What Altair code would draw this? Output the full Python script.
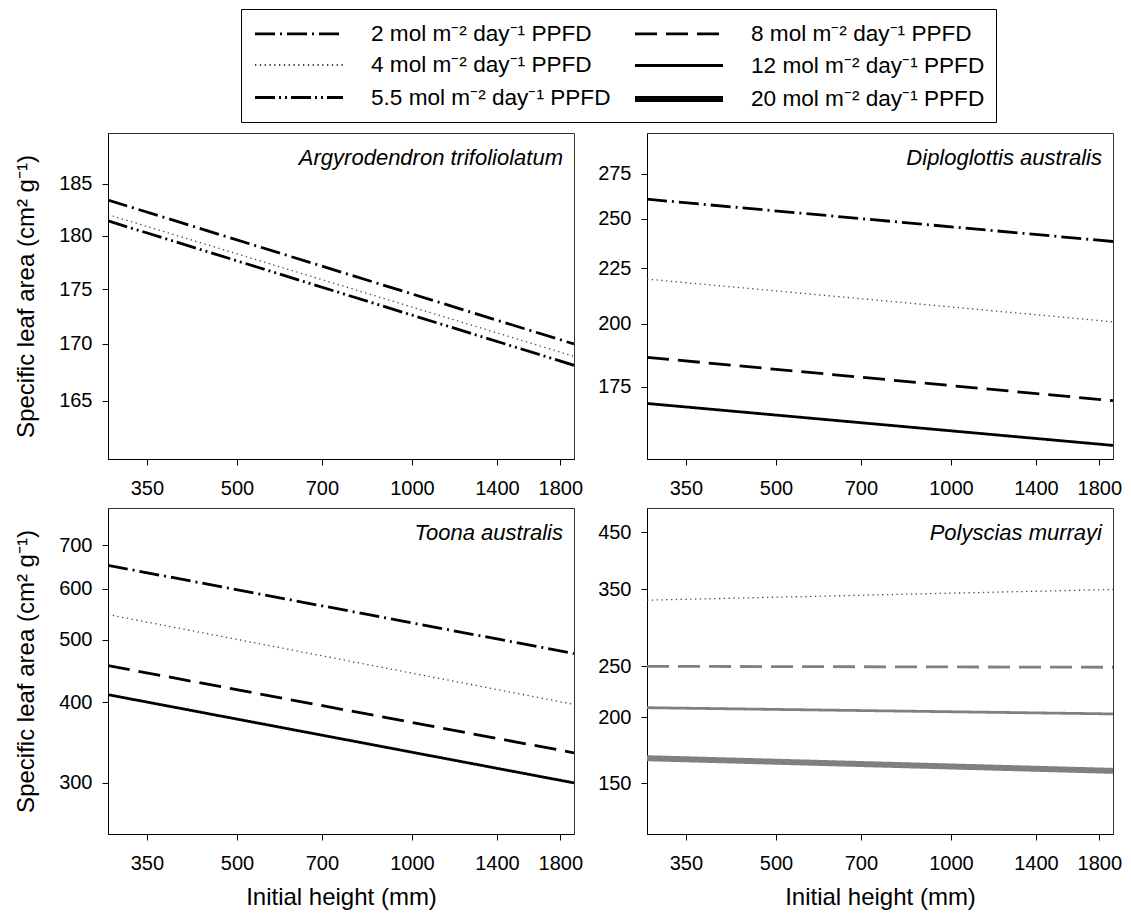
import altair as alt
import pandas as pd

FONT = "Liberation Sans"

# PPFD levels in legend order (legend fills column by column)
ppfd_levels = ["2", "4", "5.5", "8", "12", "20"]
ppfd_labels = [f"{p} mol m\u207b\u00b2 day\u207b\u00b9 PPFD" for p in ppfd_levels]
dash_range = [[20, 5, 2, 5], [1.3, 3.5], [20, 4, 2, 4, 2, 4], [22, 9], [1, 0], [1, 0]]
width_range = [2.8, 1.3, 2.8, 2.8, 2.8, 6]

height_range = [300, 1900]
x_ticks = [350, 500, 700, 1000, 1400, 1800]

# Argyrodendron trifoliolatum
argy_levels = ["2", "4", "5.5"]
argy_start = [183.4, 182.0, 181.4]
argy_end = [170.0, 168.9, 168.1]

# Diploglottis australis
diplo_levels = ["2", "4", "8", "12"]
diplo_start = [260.6, 219.9, 186.2, 168.8]
diplo_end = [238.2, 200.8, 169.8, 154.4]

# Toona australis
toona_levels = ["2", "4", "8", "12"]
toona_start = [652, 547, 456, 411]
toona_end = [476, 397, 334, 300]

# Polyscias murrayi
poly_levels = ["4", "8", "12", "20"]
poly_start = [334, 250, 208.6, 167.2]
poly_end = [350, 249, 203, 158.2]

W, H = 466, 326


def make_df(levels, start, end):
    rows = []
    for lv, s, e in zip(levels, start, end):
        lab = ppfd_labels[ppfd_levels.index(lv)]
        rows.append({"ppfd": lab, "height": height_range[0], "sla": s})
        rows.append({"ppfd": lab, "height": height_range[1], "sla": e})
    return pd.DataFrame(rows)


def panel(df, name, ydomain, yticks, ytitle, xtitle, grey=False):
    main = "#808080" if grey else "black"
    color = alt.condition(
        alt.datum.ppfd == ppfd_labels[1], alt.value("#444444"), alt.value(main)
    )
    xaxis = alt.Axis(values=x_ticks, format="d", title=xtitle if xtitle else None)
    yaxis = alt.Axis(values=yticks, format="d", title=ytitle if ytitle else None)
    lines = alt.Chart(df).mark_line(clip=True).encode(
        x=alt.X("height:Q", scale=alt.Scale(type="log", domain=height_range, nice=False), axis=xaxis),
        y=alt.Y("sla:Q", scale=alt.Scale(type="log", domain=ydomain, nice=False), axis=yaxis),
        strokeDash=alt.StrokeDash("ppfd:N", scale=alt.Scale(type="ordinal", domain=ppfd_labels, range=dash_range), title=None),
        strokeWidth=alt.StrokeWidth("ppfd:N", scale=alt.Scale(type="ordinal", domain=ppfd_labels, range=width_range), title=None),
        detail="ppfd:N",
        color=color,
    )
    label = alt.Chart(pd.DataFrame({"name": [name]})).mark_text(
        align="right", baseline="middle", fontStyle="italic", fontSize=22, font=FONT, color="black"
    ).encode(text="name:N", x=alt.value(W - 11), y=alt.value(25))
    return alt.layer(lines, label).properties(width=W, height=H)


ytitle = "Specific leaf area (cm\u00b2 g\u207b\u00b9)"
xtitle = "Initial height (mm)"

p1 = panel(make_df(argy_levels, argy_start, argy_end), "Argyrodendron trifoliolatum",
           [160, 190], [165, 170, 175, 180, 185], ytitle, None)
p2 = panel(make_df(diplo_levels, diplo_start, diplo_end), "Diploglottis australis",
           [150, 300], [175, 200, 225, 250, 275], None, None)
p3 = panel(make_df(toona_levels, toona_start, toona_end), "Toona australis",
           [250, 800], [300, 400, 500, 600, 700], ytitle, xtitle)
p4 = panel(make_df(poly_levels, poly_start, poly_end), "Polyscias murrayi",
           [120, 500], [150, 200, 250, 350, 450], None, xtitle, grey=True)

chart = alt.concat(
    p1, p2, p3, p4, columns=2, spacing={"row": 49, "column": 73}, bounds="flush"
).resolve_scale(
    strokeDash="shared", strokeWidth="shared"
).properties(
    padding={"left": 14, "top": 8, "right": 5, "bottom": 5},
    background="white",
).configure_view(
    stroke="#333333", strokeWidth=1
).configure_axis(
    domainColor="black", tickColor="black", labelColor="black", titleColor="black",
    labelFont=FONT, titleFont=FONT, labelFontSize=20, titleFontSize=24,
    titleFontWeight="normal", grid=False, tickSize=6, labelFlush=False
).configure_axisX(
    labelPadding=13, titlePadding=12
).configure_axisY(
    labelPadding=10, titlePadding=20
).configure_legend(
    orient="none", legendX=133, legendY=-124, columns=2,
    symbolType="M-1,0H6.333", symbolSize=576, symbolStrokeColor="black",
    labelFontSize=22.6, labelFont=FONT, labelColor="black", labelOffset=89, labelLimit=500,
    padding=11, strokeColor="black", fillColor="white", rowPadding=6, columnPadding=12,
)

chart.save("out.html", embed_options={"renderer": "svg", "actions": False})
